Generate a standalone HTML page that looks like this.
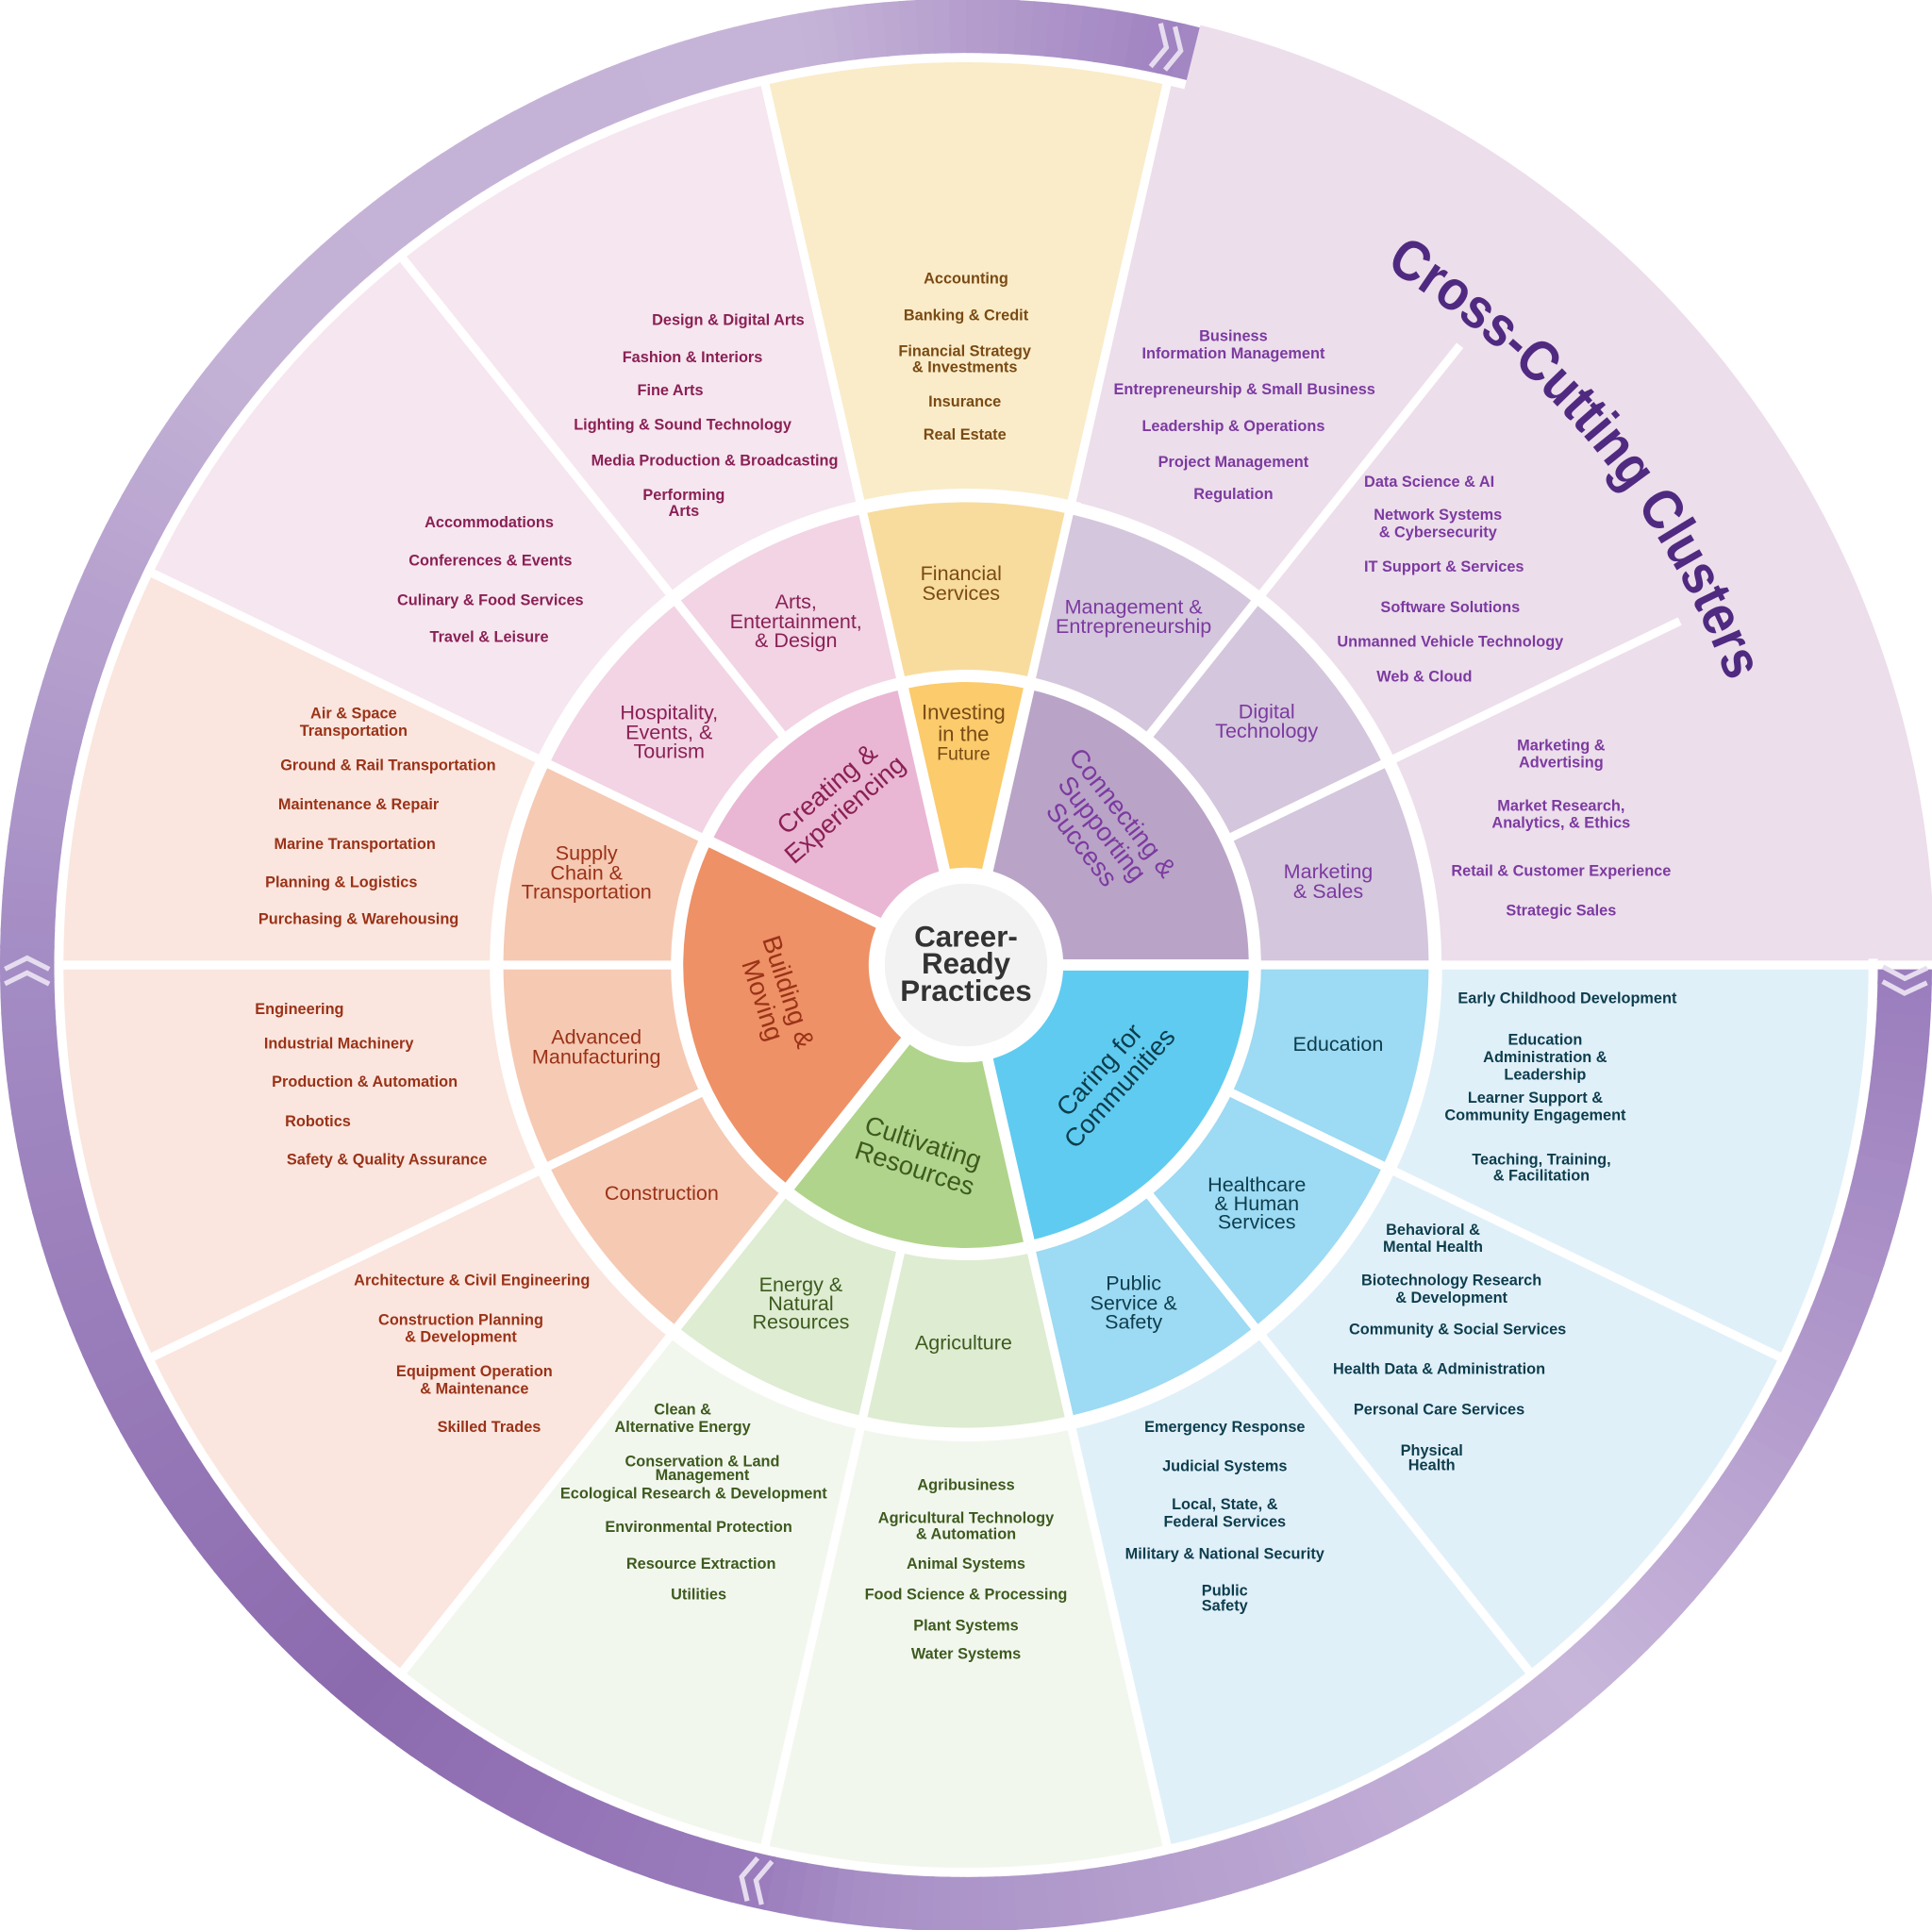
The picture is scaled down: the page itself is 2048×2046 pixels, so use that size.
<!DOCTYPE html>
<html><head><meta charset="utf-8">
<style>
html,body{margin:0;padding:0;background:#fff;}
svg{display:block;}
text{font-family:"Liberation Sans",sans-serif;font-weight:bold;text-anchor:middle;dominant-baseline:central;}
.p{font-size:12.5px;}
.c{font-size:16.5px;font-weight:normal;}
.t{font-size:21px;font-weight:normal;}
.fin{fill:#7a4a14}.pur{fill:#7c3aa0}.tea{fill:#0d3d4d}.grn{fill:#3d5a1e}.red{fill:#9a3218}.mag{fill:#8a2055}
</style></head>
<body>
<svg id="s" width="2048" height="2046" viewBox="0 0 1568 1566" preserveAspectRatio="none" xmlns="http://www.w3.org/2000/svg">
<g id="shapes"></g>
<g id="chev"></g>
<circle cx="784" cy="783" r="79" fill="#fff"/>
<circle cx="784" cy="783" r="66" fill="#f2f2f2"/>

<defs><path id="arc" d="M1124,217 A660,660 0 0 1 1400,547"/></defs>
<text style="font-size:46px;fill:#4f2a80;dominant-baseline:auto;text-anchor:start"><textPath href="#arc" textLength="445" lengthAdjust="spacingAndGlyphs">Cross-Cutting Clusters</textPath></text>

<text x="784" y="760" style="font-size:24px;fill:#333">Career-</text>
<text x="784" y="782" style="font-size:24px;fill:#333">Ready</text>
<text x="784" y="804" style="font-size:24px;fill:#333">Practices</text>

<text class="fin" style="font-size:17px;font-weight:normal" x="782" y="578">Investing<tspan x="782" dy="17">in the</tspan><tspan x="782" dy="17" style="font-size:15px">Future</tspan></text>
<text class="t mag" transform="translate(678,648) rotate(-41)"><tspan x="0" y="-11">Creating &amp;</tspan><tspan x="0" y="11">Experiencing</tspan></text>
<text class="t pur" transform="translate(895,672) rotate(52)"><tspan x="0" y="-21">Connecting &amp;</tspan><tspan x="0" y="0">Supporting</tspan><tspan x="0" y="21">Success</tspan></text>
<text class="t tea" transform="translate(900,875) rotate(-48)"><tspan x="0" y="-11">Caring for</tspan><tspan x="0" y="11">Communities</tspan></text>
<text class="t grn" transform="translate(746,937) rotate(18)"><tspan x="0" y="-11">Cultivating</tspan><tspan x="0" y="11">Resources</tspan></text>
<text class="t red" transform="translate(630,808) rotate(72)"><tspan x="0" y="-11">Building &amp;</tspan><tspan x="0" y="11">Moving</tspan></text>

<text class="c fin" x="780" y="465">Financial<tspan x="780" dy="15.5">Services</tspan></text>
<text class="c pur" x="920" y="492">Management &amp;<tspan x="920" dy="15.5">Entrepreneurship</tspan></text>
<text class="c pur" x="1028" y="577">Digital<tspan x="1028" dy="15.5">Technology</tspan></text>
<text class="c pur" x="1078" y="707">Marketing<tspan x="1078" dy="15.5">&amp; Sales</tspan></text>
<text class="c tea" x="1086" y="847">Education</text>
<text class="c tea" x="1020" y="961">Healthcare<tspan x="1020" dy="15">&amp; Human</tspan><tspan x="1020" dy="15">Services</tspan></text>
<text class="c tea" x="920" y="1041">Public<tspan x="920" dy="15.5">Service &amp;</tspan><tspan x="920" dy="15.5">Safety</tspan></text>
<text class="c grn" x="782" y="1089">Agriculture</text>
<text class="c grn" x="650" y="1042">Energy &amp;<tspan x="650" dy="15">Natural</tspan><tspan x="650" dy="15">Resources</tspan></text>
<text class="c red" x="537" y="968">Construction</text>
<text class="c red" x="484" y="841">Advanced<tspan x="484" dy="16">Manufacturing</tspan></text>
<text class="c red" x="476" y="692">Supply<tspan x="476" dy="15.5">Chain &amp;</tspan><tspan x="476" dy="15.5">Transportation</tspan></text>
<text class="c mag" x="543" y="578">Hospitality,<tspan x="543" dy="15.5">Events, &amp;</tspan><tspan x="543" dy="15.5">Tourism</tspan></text>
<text class="c mag" x="646" y="488">Arts,<tspan x="646" dy="15.5">Entertainment,</tspan><tspan x="646" dy="15.5">&amp; Design</tspan></text>

<g class="p mag">
<text x="591" y="260">Design &amp; Digital Arts</text>
<text x="562" y="290">Fashion &amp; Interiors</text>
<text x="544" y="317">Fine Arts</text>
<text x="554" y="345">Lighting &amp; Sound Technology</text>
<text x="580" y="374">Media Production &amp; Broadcasting</text>
<text x="555" y="402">Performing<tspan x="555" dy="13">Arts</tspan></text>
<text x="397" y="424">Accommodations</text>
<text x="398" y="455">Conferences &amp; Events</text>
<text x="398" y="487">Culinary &amp; Food Services</text>
<text x="397" y="517">Travel &amp; Leisure</text>
</g>
<g class="p fin">
<text x="784" y="226">Accounting</text>
<text x="784" y="256">Banking &amp; Credit</text>
<text x="783" y="285">Financial Strategy<tspan x="783" dy="13">&amp; Investments</tspan></text>
<text x="783" y="326">Insurance</text>
<text x="783" y="353">Real Estate</text>
</g>
<g class="p pur">
<text x="1001" y="273">Business<tspan x="1001" dy="14">Information Management</tspan></text>
<text x="1010" y="316">Entrepreneurship &amp; Small Business</text>
<text x="1001" y="346">Leadership &amp; Operations</text>
<text x="1001" y="375">Project Management</text>
<text x="1001" y="401">Regulation</text>
<text x="1160" y="391">Data Science &amp; AI</text>
<text x="1167" y="418">Network Systems<tspan x="1167" dy="14">&amp; Cybersecurity</tspan></text>
<text x="1172" y="460">IT Support &amp; Services</text>
<text x="1177" y="493">Software Solutions</text>
<text x="1177" y="521">Unmanned Vehicle Technology</text>
<text x="1156" y="549">Web &amp; Cloud</text>
<text x="1267" y="605">Marketing &amp;<tspan x="1267" dy="14">Advertising</tspan></text>
<text x="1267" y="654">Market Research,<tspan x="1267" dy="14">Analytics, &amp; Ethics</tspan></text>
<text x="1267" y="707">Retail &amp; Customer Experience</text>
<text x="1267" y="739">Strategic Sales</text>
</g>
<g class="p tea">
<text x="1272" y="810">Early Childhood Development</text>
<text x="1254" y="844">Education<tspan x="1254" dy="14">Administration &amp;</tspan><tspan x="1254" dy="14">Leadership</tspan></text>
<text x="1246" y="891">Learner Support &amp;<tspan x="1246" dy="14">Community Engagement</tspan></text>
<text x="1251" y="941">Teaching, Training,<tspan x="1251" dy="13">&amp; Facilitation</tspan></text>
<text x="1163" y="998">Behavioral &amp;<tspan x="1163" dy="14">Mental Health</tspan></text>
<text x="1178" y="1039">Biotechnology Research<tspan x="1178" dy="14">&amp; Development</tspan></text>
<text x="1183" y="1079">Community &amp; Social Services</text>
<text x="1168" y="1111">Health Data &amp; Administration</text>
<text x="1168" y="1144">Personal Care Services</text>
<text x="1162" y="1177">Physical<tspan x="1162" dy="12">Health</tspan></text>
<text x="994" y="1158">Emergency Response</text>
<text x="994" y="1190">Judicial Systems</text>
<text x="994" y="1221">Local, State, &amp;<tspan x="994" dy="14">Federal Services</tspan></text>
<text x="994" y="1261">Military &amp; National Security</text>
<text x="994" y="1291">Public<tspan x="994" dy="12">Safety</tspan></text>
</g>
<g class="p grn">
<text x="784" y="1205">Agribusiness</text>
<text x="784" y="1232">Agricultural Technology<tspan x="784" dy="13">&amp; Automation</tspan></text>
<text x="784" y="1269">Animal Systems</text>
<text x="784" y="1294">Food Science &amp; Processing</text>
<text x="784" y="1319">Plant Systems</text>
<text x="784" y="1342">Water Systems</text>
<text x="554" y="1144">Clean &amp;<tspan x="554" dy="14">Alternative Energy</tspan></text>
<text x="570" y="1186">Conservation &amp; Land<tspan x="570" dy="11">Management</tspan></text>
<text x="563" y="1212">Ecological Research &amp; Development</text>
<text x="567" y="1239">Environmental Protection</text>
<text x="569" y="1269">Resource Extraction</text>
<text x="567" y="1294">Utilities</text>
</g>
<g class="p red">
<text x="383" y="1039">Architecture &amp; Civil Engineering</text>
<text x="374" y="1071">Construction Planning<tspan x="374" dy="14">&amp; Development</tspan></text>
<text x="385" y="1113">Equipment Operation<tspan x="385" dy="14">&amp; Maintenance</tspan></text>
<text x="397" y="1158">Skilled Trades</text>
<text x="243" y="819">Engineering</text>
<text x="275" y="847">Industrial Machinery</text>
<text x="296" y="878">Production &amp; Automation</text>
<text x="258" y="910">Robotics</text>
<text x="314" y="941">Safety &amp; Quality Assurance</text>
<text x="287" y="579">Air &amp; Space<tspan x="287" dy="14">Transportation</tspan></text>
<text x="315" y="621">Ground &amp; Rail Transportation</text>
<text x="291" y="653">Maintenance &amp; Repair</text>
<text x="288" y="685">Marine Transportation</text>
<text x="277" y="716">Planning &amp; Logistics</text>
<text x="291" y="746">Purchasing &amp; Warehousing</text>
</g>
</svg>
<script>
(function(){
var NS="http://www.w3.org/2000/svg",C=[784,783];
var g=document.getElementById("shapes");
function pt(r,a){a*=Math.PI/180;return [C[0]+r*Math.cos(a),C[1]+r*Math.sin(a)];}
function add(tag,at,par){var e=document.createElementNS(NS,tag);for(var k in at)e.setAttribute(k,at[k]);(par||g).appendChild(e);return e;}
function sec(r1,r2,a1,a2,fill,sw,stroke){
 var L=(a2-a1)>180?1:0,p1=pt(r2,a1),p2=pt(r2,a2),p3=pt(r1,a2),p4=pt(r1,a1);
 var d="M"+p1+" A"+r2+","+r2+" 0 "+L+" 1 "+p2+" L"+p3+" A"+r1+","+r1+" 0 "+L+" 0 "+p4+"Z";
 add("path",{d:d,fill:fill,stroke:stroke||"#fff","stroke-width":sw||0});
}
function line(r1,r2,a,w){var p=pt(r1,a),q=pt(r2,a);add("line",{x1:p[0],y1:p[1],x2:q[0],y2:q[1],stroke:"#fff","stroke-width":w||7});}
function hex(c){return [parseInt(c.substr(1,2),16),parseInt(c.substr(3,2),16),parseInt(c.substr(5,2),16)];}
function lerp(a,b,t){var A=hex(a),B=hex(b);return "rgb("+A.map(function(v,i){return Math.round(v+(B[i]-v)*t);}).join(",")+")";}
var stops=[[0,"#9a7cbc"],[50,"#c8b6da"],[96,"#a890c6"],[103,"#9a7cbc"],[130,"#8c6aae"],[180,"#a48cc4"],[220,"#c4b2d6"],[260,"#c6b4d8"],[283,"#9f82c0"],[292,"#ecdeeb"],[360,"#ecdeeb"]];
function rc(a){for(var i=0;i<stops.length-1;i++){if(a>=stops[i][0]&&a<=stops[i+1][0]){return lerp(stops[i][1],stops[i+1][1],(a-stops[i][0])/(stops[i+1][0]-stops[i][0]));}}return stops[0][1];}
for(var a=0;a<360;a+=1){sec(740,784,a,a+1.2,rc(a+0.5),0);}
var W=25.7142857,B0=257.142857;
function A(k){return B0+k*W;}
var oc=["#faecc9",null,null,null,"#e0f0f9","#e0f0f9","#e0f0f9","#f2f7ee","#f2f7ee","#fae6de","#fae6de","#fae6de","#f6e6ef","#f6e6ef"];
for(var k=0;k<14;k++){if(oc[k])sec(383,736,A(k),A(k+1),oc[k],7);}
sec(383,736,A(1),A(4),"#ecdeeb",7);
sec(386,786,284,359.6,"#ecdeeb",0);
line(376,643,A(2));line(376,643,A(3));
line(376,786,360,7);
var mc=["#f8dc9e","#d4c6dc","#d4c6dc","#d4c6dc","#9ddaf3","#9ddaf3","#9ddaf3","#deecd2","#deecd2","#f6c9b3","#f6c9b3","#f6c9b3","#f2d4e4","#f2d4e4"];
for(var k=0;k<14;k++){sec(236,379,A(k),A(k+1),mc[k],7);}
var th=[[0,1,"#fbcb6c"],[1,4,"#b9a4c7"],[4,7,"#5fcbf0"],[7,9,"#b0d48b"],[9,12,"#ee9166"],[12,14,"#e9b7d3"]];
th.forEach(function(t){sec(60,234,A(t[0]),A(t[1]),t[2],9);});
var cg=document.getElementById("chev");
[283,1.5,103.6,180.2].forEach(function(a){var p=pt(762,a);
 var gg=add("g",{transform:"translate("+p[0]+","+p[1]+") rotate("+(a+90)+")"},cg);
 [-9,3].forEach(function(o){add("polyline",{points:(o-9)+",-18 "+o+",0 "+(o-9)+",18",fill:"none",stroke:"#e6dcef","stroke-width":4,"stroke-linejoin":"miter"},gg);});
});
})();
</script>
</body></html>
